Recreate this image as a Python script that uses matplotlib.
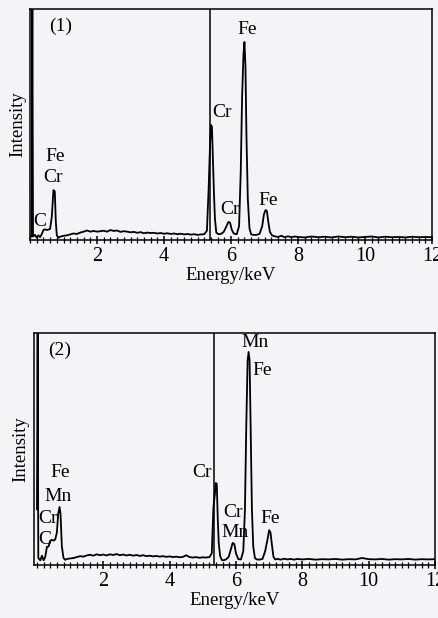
import matplotlib.pyplot as plt
from matplotlib.ticker import MultipleLocator

plt.rcParams['font.family'] = ['Liberation Serif', 'DejaVu Serif']

# -----------------------
# spectrum (1): energy keV / intensity (a.u., top of axes = 100)
# -----------------------
energy_1 = [0.00, 0.05, 0.07, 0.09, 0.15, 0.20, 0.25, 0.30, 0.35, 0.40, 0.45,
            0.50, 0.55, 0.60, 0.65, 0.70, 0.74, 0.77, 0.80, 0.85, 0.90, 1.00,
            1.10, 1.20, 1.30, 1.40, 1.50, 1.60, 1.70, 1.80, 1.90, 2.00, 2.10,
            2.20, 2.30, 2.40, 2.50, 2.60, 2.70, 2.80, 2.90, 3.00, 3.10, 3.20,
            3.30, 3.40, 3.50, 3.60, 3.70, 3.80, 3.90, 4.00, 4.10, 4.20, 4.30,
            4.40, 4.50, 4.60, 4.70, 4.80, 4.90, 5.00, 5.10, 5.20, 5.28, 5.33,
            5.37, 5.40, 5.43, 5.46, 5.49, 5.52, 5.56, 5.62, 5.70, 5.78, 5.85,
            5.92, 5.97, 6.02, 6.08, 6.17, 6.24, 6.29, 6.33, 6.37, 6.40, 6.43,
            6.46, 6.50, 6.55, 6.60, 6.67, 6.75, 6.85, 6.93, 6.98, 7.03, 7.07,
            7.11, 7.16, 7.22, 7.30, 7.40, 7.50, 7.60, 7.70, 7.80, 7.90, 8.00,
            8.20, 8.40, 8.60, 8.80, 9.00, 9.20, 9.40, 9.60, 9.80, 10.00, 10.20,
            10.40, 10.60, 10.80, 11.00, 11.20, 11.40, 11.60, 11.80, 12.00]
counts_1 = [1.5, 1.5, 100, 1.5, 2.2, 1.0, 2.0, 1.2, 2.5, 4.3, 4.6,
            4.3, 4.5, 4.8, 10.0, 21.6, 21.0, 8.0, 2.0, 1.0, 1.4, 1.8,
            2.0, 2.4, 2.8, 2.6, 3.2, 3.6, 4.1, 3.6, 3.9, 3.6, 3.8,
            4.0, 3.6, 4.3, 3.9, 4.1, 3.5, 3.8, 3.6, 3.3, 3.5, 3.1,
            3.4, 2.9, 3.2, 3.0, 3.1, 2.8, 3.0, 2.7, 2.9, 2.6, 2.8,
            2.5, 2.7, 2.4, 2.6, 2.3, 2.5, 2.2, 2.4, 2.5, 4.0, 21.6,
            40.0, 49.8, 49.0, 34.6, 20.0, 9.0, 3.2, 2.5, 2.6, 3.5, 5.5,
            7.8, 7.5, 4.5, 2.8, 2.5, 6.0, 30.0, 62.0, 80.0, 85.7, 75.0,
            45.0, 18.0, 5.0, 2.4, 2.2, 2.2, 2.6, 6.0, 11.0, 13.0, 12.5,
            8.0, 3.5, 2.0, 1.6, 1.3, 1.8, 1.2, 1.6, 1.2, 1.5, 1.3,
            1.1, 1.5, 1.2, 1.4, 1.1, 1.5, 1.2, 1.4, 1.1, 1.3, 1.5,
            1.1, 1.4, 1.2, 1.3, 1.1, 1.4, 1.2, 1.3, 1.2]

# -----------------------
# spectrum (2)
# -----------------------
energy_2 = [0.00, 0.02, 0.04, 0.10, 0.15, 0.20, 0.25, 0.30, 0.35, 0.40, 0.45,
            0.50, 0.55, 0.60, 0.64, 0.68, 0.71, 0.75, 0.80, 0.85, 0.90, 1.00,
            1.10, 1.20, 1.30, 1.40, 1.50, 1.60, 1.70, 1.80, 1.90, 2.00, 2.10,
            2.20, 2.30, 2.40, 2.50, 2.60, 2.70, 2.80, 2.90, 3.00, 3.10, 3.20,
            3.30, 3.40, 3.50, 3.60, 3.70, 3.80, 3.90, 4.00, 4.10, 4.20, 4.30,
            4.40, 4.50, 4.60, 4.70, 4.80, 4.90, 5.00, 5.10, 5.20, 5.27, 5.32,
            5.36, 5.39, 5.42, 5.45, 5.48, 5.52, 5.57, 5.62, 5.70, 5.78, 5.84,
            5.90, 5.95, 6.00, 6.07, 6.15, 6.22, 6.27, 6.31, 6.35, 6.38, 6.41,
            6.44, 6.48, 6.52, 6.57, 6.62, 6.70, 6.80, 6.88, 6.95, 7.00, 7.04,
            7.08, 7.13, 7.18, 7.25, 7.35, 7.45, 7.55, 7.65, 7.75, 7.85, 8.00,
            8.20, 8.40, 8.60, 8.80, 9.00, 9.20, 9.40, 9.60, 9.80, 10.00, 10.20,
            10.40, 10.60, 10.80, 11.00, 11.20, 11.40, 11.60, 11.80, 12.00]
counts_2 = [24.0, 100, 3.0, 2.0, 4.0, 2.0, 3.5, 7.8, 8.0, 10.5, 10.8,
            10.5, 11.0, 14.0, 22.0, 25.0, 22.0, 8.0, 3.0, 2.2, 2.6, 2.8,
            3.0, 3.4, 3.8, 3.6, 4.1, 4.4, 4.0, 4.6, 4.2, 4.5, 4.1,
            4.6, 4.3, 4.7, 4.2, 4.5, 4.1, 4.4, 4.0, 4.3, 3.9, 4.2,
            3.8, 4.0, 3.7, 3.9, 3.6, 3.8, 3.5, 3.7, 3.4, 3.6, 3.3,
            3.5, 4.2, 3.4, 3.2, 3.4, 3.1, 3.3, 3.2, 3.4, 5.0, 25.0,
            30.0, 35.3, 35.0, 20.0, 9.5, 4.0, 2.2, 2.0, 2.4, 3.5, 6.5,
            9.5, 9.0, 5.0, 2.5, 2.4, 6.0, 24.0, 60.0, 88.0, 91.8, 88.0,
            60.0, 24.0, 8.0, 3.0, 2.4, 2.3, 2.6, 6.0, 11.0, 15.0, 14.0,
            9.0, 3.5, 2.4, 2.6, 2.3, 2.7, 2.4, 2.6, 2.3, 2.6, 2.4,
            2.6, 2.3, 2.5, 2.4, 2.6, 2.3, 2.5, 2.4, 3.0, 2.5, 2.4,
            2.6, 2.3, 2.5, 2.4, 2.6, 2.3, 2.5, 2.4, 2.5]

# vertical cursor line in each spectrum (keV)
cursor_1 = 5.37
cursor_2 = 5.34

# peak labels: (text, keV, intensity)
labels_1 = [("(1)", 0.9, 92.5), ("Fe", 6.48, 91.0), ("Cr", 5.73, 55.0),
            ("Cr", 5.97, 13.4), ("Fe", 7.10, 17.0), ("Fe", 0.75, 36.0),
            ("Cr", 0.69, 27.0), ("C", 0.30, 7.8)]
labels_2 = [("(2)", 0.69, 92.7), ("Mn", 6.57, 96.0), ("Fe", 6.80, 83.6),
            ("Cr", 4.97, 40.0), ("Cr", 5.90, 22.8), ("Mn", 5.96, 13.8),
            ("Fe", 7.02, 20.0), ("Fe", 0.69, 39.7), ("Mn", 0.63, 29.3),
            ("Cr", 0.33, 20.0), ("C", 0.24, 11.0)]

bg = '#f4f4f6'
fig = plt.figure(figsize=(4.38, 6.18), dpi=100, facecolor=bg)

ax1 = fig.add_axes([0.0685, 0.6117, 0.918, 0.3737])
ax2 = fig.add_axes([0.0776, 0.0858, 0.9156, 0.3755])

panels = [(ax1, energy_1, counts_1, cursor_1, labels_1, (0.0, 12.0)),
          (ax2, energy_2, counts_2, cursor_2, labels_2, (-0.09, 12.0))]

for ax, e, c, cur, labs, xl in panels:
    ax.set_facecolor(bg)
    ax.plot(e, c, color='black', lw=1.3)
    ax.axvline(cur, color='black', lw=1.1)
    for txt, x, y in labs:
        ax.text(x, y, txt, ha='center', va='center', fontsize=14)
    ax.set_xlim(*xl)
    ax.set_ylim(0, 100)
    ax.set_yticks([])
    ax.xaxis.set_major_locator(MultipleLocator(2))
    ax.xaxis.set_minor_locator(MultipleLocator(0.2))
    ax.set_xticks([2, 4, 6, 8, 10, 12])
    ax.tick_params(axis='x', which='major', direction='inout', length=6,
                   width=1.1, labelsize=14.5, pad=2)
    ax.tick_params(axis='x', which='minor', direction='inout', length=4,
                   width=0.9)
    for s in ax.spines.values():
        s.set_linewidth(1.1)
    ax.set_xlabel("Energy/keV", fontsize=13.5, labelpad=1)
    ax.set_ylabel("Intensity", fontsize=13.5, labelpad=3)

plt.savefig("out.png", dpi=100, facecolor=bg)
plt.close(fig)
